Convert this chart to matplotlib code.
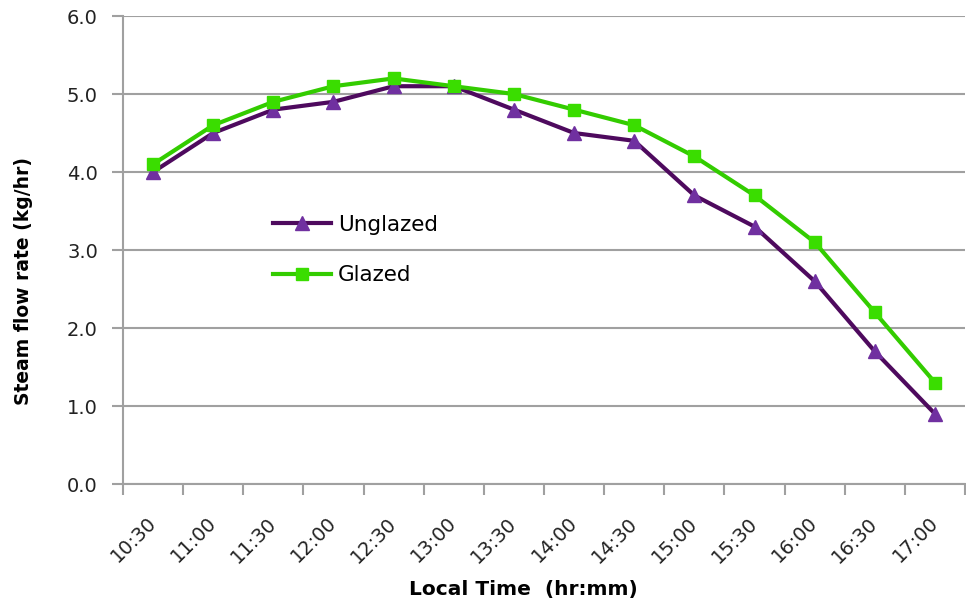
import numpy as np
import matplotlib
matplotlib.use('Agg')
import matplotlib.pyplot as plt

# data
times = ['10:30','11:00','11:30','12:00','12:30','13:00','13:30',
         '14:00','14:30','15:00','15:30','16:00','16:30','17:00']
unglazed = [4.0,4.5,4.8,4.9,5.1,5.1,4.8,4.5,4.4,3.7,3.3,2.6,1.7,0.9]
glazed = [4.1,4.6,4.9,5.1,5.2,5.1,5.0,4.8,4.6,4.2,3.7,3.1,2.2,1.3]

grid_c = '#A0A0A0'
fig = plt.figure(figsize=(9.66,6.07),dpi=100)
ax = fig.add_axes([0.1273,0.2026,0.8717,0.771])

x = np.arange(len(times))
ax.plot(x,unglazed,color='#4E0A5E',lw=3.0,marker='^',ms=10,
        mfc='#7030A0',mec='#7030A0',label='Unglazed',zorder=3)
ax.plot(x,glazed,color='#33CC00',lw=3.0,marker='s',ms=8,
        mfc='#3ADD00',mec='#3ADD00',label='Glazed',zorder=3)

ax.set_xlim(-0.5,len(times)-0.5)
ax.set_ylim(0,6)
ax.set_yticks(np.arange(0,6.01,1.0))
ax.set_yticklabels(['%.1f' % v for v in np.arange(0,6.01,1.0)],fontsize=14,color='#222222')
ax.yaxis.grid(True,color=grid_c,lw=1.5)
ax.set_axisbelow(True)

ax.set_xticks(x)
ax.set_xticklabels(times,rotation=45,ha='right',va='center',rotation_mode='anchor',
                   fontsize=14,color='#222222')
ax.tick_params(axis='x',length=0,pad=26)
# boundary ticks between categories
ax.set_xticks(np.arange(-0.5,len(times),1.0),minor=True)
ax.tick_params(axis='x',which='minor',length=8,width=1.5,color=grid_c,direction='out')
ax.tick_params(axis='y',length=8,width=1.5,color=grid_c,direction='out',pad=10)

for s in ['top','right']:
    ax.spines[s].set_visible(False)
for s in ['left','bottom']:
    ax.spines[s].set_color(grid_c)
    ax.spines[s].set_linewidth(1.5)

ax.set_ylabel('Steam flow rate (kg/hr)',fontsize=13.5,fontweight='bold')
ax.yaxis.set_label_coords(-0.107,0.434)
ax.set_xlabel('Local Time  (hr:mm)',fontsize=14.5,fontweight='bold')
ax.xaxis.set_label_coords(0.475,-0.205)

ax.legend(loc='center left',bbox_to_anchor=(0.155,0.5),frameon=False,fontsize=15.5,
          handlelength=2.7,labelspacing=1.4,handletextpad=0.33)

fig.savefig('out.png',dpi=100)
